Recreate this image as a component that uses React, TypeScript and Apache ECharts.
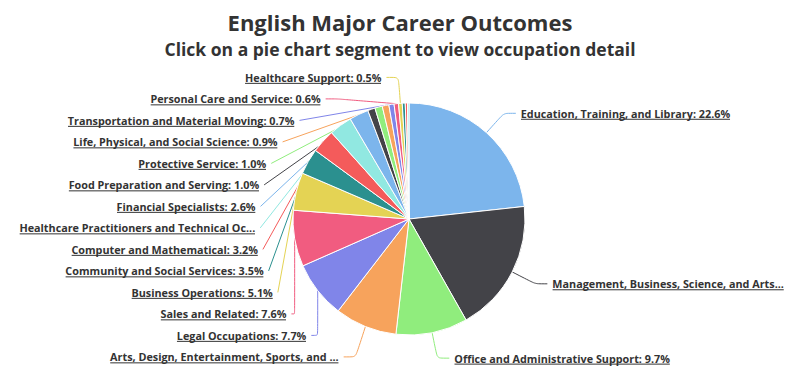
import React, { useEffect, useRef } from 'react';
import * as echarts from 'echarts';

const titleText = 'English Major Career Outcomes';
const subtitleText = 'Click on a pie chart segment to view occupation detail';

const occupations = [
  'Education, Training, and Library',
  'Management, Business, Science, and Arts Occupations',
  'Office and Administrative Support',
  'Arts, Design, Entertainment, Sports, and Media',
  'Legal Occupations',
  'Sales and Related',
  'Business Operations',
  'Community and Social Services',
  'Computer and Mathematical',
  'Healthcare Practitioners and Technical Occupations',
  'Financial Specialists',
  'Food Preparation and Serving',
  'Protective Service',
  'Life, Physical, and Social Science',
  'Transportation and Material Moving',
  'Personal Care and Service',
  'Healthcare Support',
  'Production',
  'Construction and Extraction',
  'Architecture and Engineering',
];

const shares = [22.6, 18.0, 9.7, 8.4, 7.7, 7.6, 5.1, 3.5, 3.2, 3.1, 2.6, 1.0, 1.0, 0.9, 0.7, 0.6, 0.5, 0.4, 0.3, 0.2];

// slices whose labels are hidden in the reference (too small to fit)
const labelShown = [true, true, true, true, true, true, true, true, true, true, true, true, true, true, true, true, true, false, false, false];

const palette = ['#7cb5ec', '#434348', '#90ed7d', '#f7a35c', '#8085e9', '#f15c80', '#e4d354', '#2b908f', '#f45b5b', '#91e8e1'];

const LABEL_FONT_FAMILY = 'Open Sans';
const LABEL_FONT_SIZE = 10.8;
const LABEL_MAX_WIDTH = 238;

const underlineImage =
  'data:image/svg+xml;charset=utf-8,' +
  encodeURIComponent(
    "<svg xmlns='http://www.w3.org/2000/svg' width='100%' height='100%'><rect x='0' y='78%' width='100%' height='1' fill='#333'/></svg>"
  );

function fitLabel(text: string): string {
  const fmt: any = (echarts as any).format;
  const font = `bold ${LABEL_FONT_SIZE}px "${LABEL_FONT_FAMILY}"`;
  if (fmt && typeof fmt.truncateText === 'function') {
    try {
      return fmt.truncateText(text, LABEL_MAX_WIDTH, font, '...');
    } catch (e) {
      /* fall through */
    }
  }
  return text.length > 44 ? text.slice(0, 41) + '...' : text;
}

export default function App() {
  const ref = useRef<HTMLDivElement>(null);

  useEffect(() => {
    document.body.style.margin = '0';
    if (!ref.current) return;
    const chart = echarts.init(ref.current, undefined, { renderer: 'svg' });

    const data = occupations.map((name, i) => ({
      name,
      value: shares[i],
      label: { show: labelShown[i] },
      labelLine: { show: labelShown[i] },
    }));

    chart.setOption({
      animation: false,
      color: palette,
      title: {
        text: titleText,
        subtext: subtitleText,
        left: 'center',
        top: 6,
        itemGap: 7,
        textStyle: { fontFamily: 'Open Sans', fontSize: 22, fontWeight: 'bold', color: '#333333' },
        subtextStyle: { fontFamily: 'Open Sans', fontSize: 17.5, fontWeight: 'bold', color: '#333333' },
      },
      series: [
        {
          type: 'pie',
          top: 64,
          left: 0,
          right: 0,
          bottom: 0,
          center: [409, 155],
          radius: 116,
          startAngle: 90,
          clockwise: true,
          avoidLabelOverlap: true,
          itemStyle: { borderColor: '#ffffff', borderWidth: 1 },
          label: {
            show: true,
            position: 'outside',
            formatter: (p: any) => fitLabel(`${p.name}: ${Number(p.value).toFixed(1)}%`),
            fontFamily: LABEL_FONT_FAMILY,
            fontSize: LABEL_FONT_SIZE,
            fontWeight: 'bold',
            color: '#333333',
            lineHeight: 19.5,
            backgroundColor: { image: underlineImage },
          },
          labelLine: { show: true, length: 26, length2: 12, smooth: 0.2, lineStyle: { width: 1 } },
          labelLayout: { hideOverlap: false },
          emphasis: { disabled: true },
          data,
        },
      ],
    });

    return () => chart.dispose();
  }, []);

  return <div ref={ref} style={{ width: 800, height: 391 }} />;
}
